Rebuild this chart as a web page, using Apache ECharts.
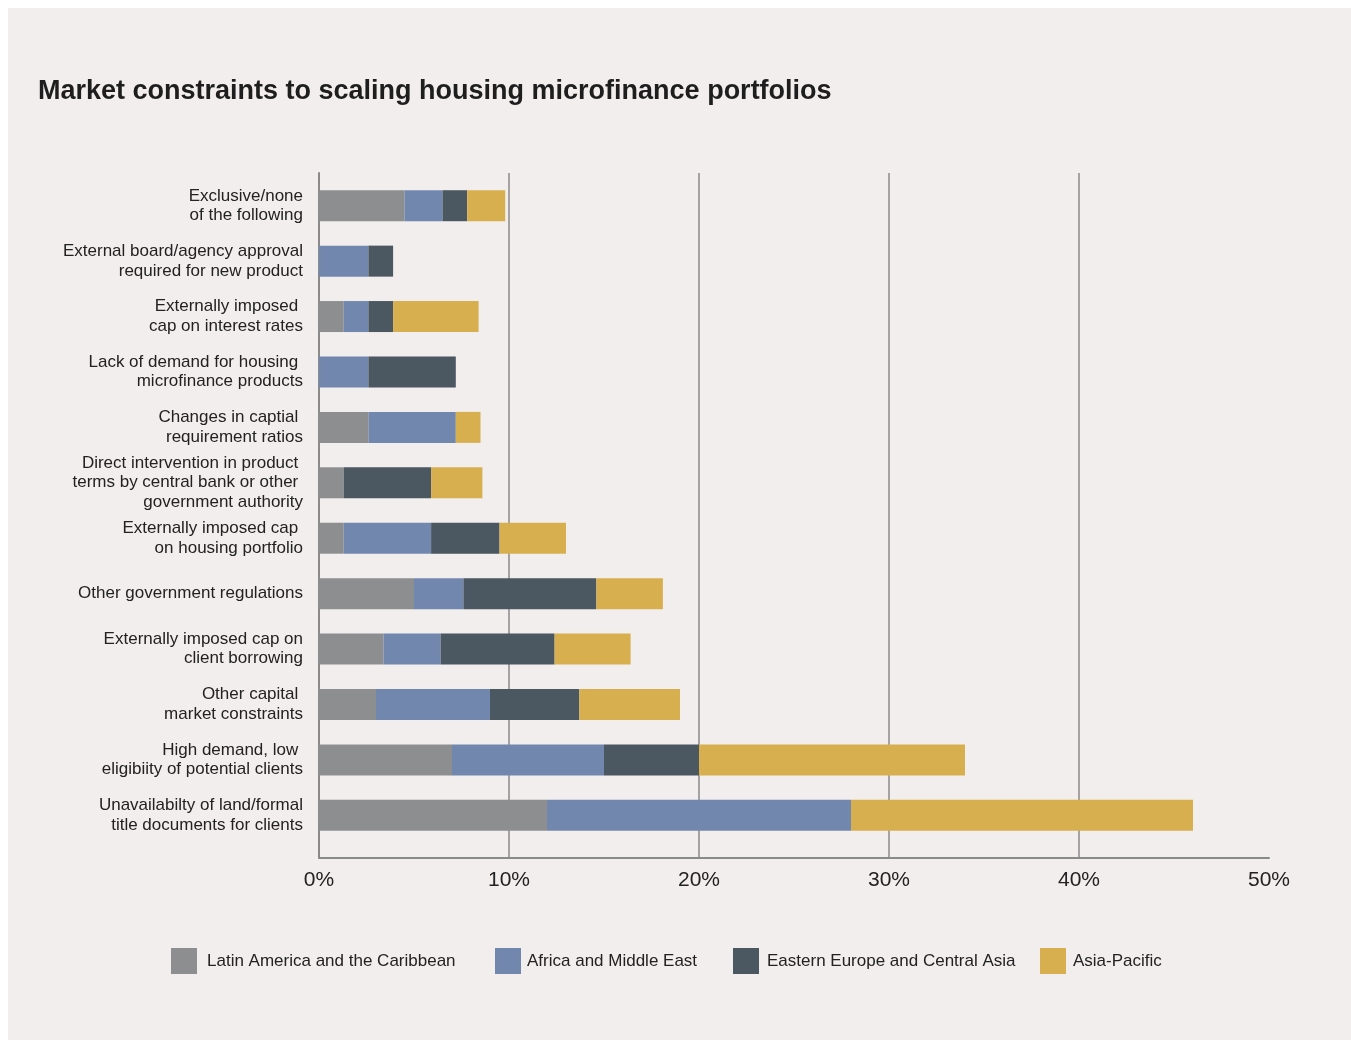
<!DOCTYPE html>
<html>
<head>
<meta charset="utf-8">
<script src="https://cdn.jsdelivr.net/npm/echarts@6/dist/echarts.min.js"></script>
<style>
  html, body { margin: 0; padding: 0; background: #ffffff; }
  #chart { position: absolute; left: 8px; top: 8px; width: 1343px; height: 1032px; background: #f2eeed; }
</style>
</head>
<body>
<div id="chart"></div>
<script>
// categories, top to bottom
var categories = [
    'Exclusive/none\nof the following',
    'External board/agency approval\nrequired for new product',
    'Externally imposed \ncap on interest rates',
    'Lack of demand for housing \nmicrofinance products',
    'Changes in captial \nrequirement ratios',
    'Direct intervention in product \nterms by central bank or other \ngovernment authority',
    'Externally imposed cap \non housing portfolio',
    'Other government regulations',
    'Externally imposed cap on\nclient borrowing',
    'Other capital \nmarket constraints',
    'High demand, low \neligibiity of potential clients',
    'Unavailabilty of land/formal\ntitle documents for clients'
];

// shares in %, same order as categories
var latinAmerica = [4.5, 0, 1.3, 0, 2.6, 1.3, 1.3, 5.0, 3.4, 3.0, 7.0, 12.0];
var africaMiddleEast = [2.0, 2.6, 1.3, 2.6, 4.6, 0, 4.6, 2.6, 3.0, 6.0, 8.0, 16.0];
var easternEurope = [1.3, 1.3, 1.3, 4.6, 0, 4.6, 3.6, 7.0, 6.0, 4.7, 5.0, 0];
var asiaPacific = [2.0, 0, 4.5, 0, 1.3, 2.7, 3.5, 3.5, 4.0, 5.3, 14.0, 18.0];

var xTicks = [0, 10, 20, 30, 40, 50];

var seriesNames = ['Latin America and the Caribbean', 'Africa and Middle East',
    'Eastern Europe and Central Asia', 'Asia-Pacific'];
var seriesColors = ['#8d8e90', '#7287ad', '#4b5761', '#d7af4f'];
var seriesData = [latinAmerica, africaMiddleEast, easternEurope, asiaPacific];

var font = '"Liberation Sans", Arial, sans-serif';

// one legend per entry so the spacing follows the original
var legendLeft = [163, 487, 725, 1032];
var legendTextGap = [5, 1, 3, 2];

var chart = echarts.init(document.getElementById('chart'));

var series = seriesNames.map(function (name, i) {
    return {
        name: name,
        type: 'bar',
        stack: 'total',
        xAxisIndex: 0,
        yAxisIndex: 0,
        barWidth: 31,
        itemStyle: { color: seriesColors[i] },
        data: seriesData[i]
    };
});

var legends = seriesNames.map(function (name, i) {
    return {
        data: [name],
        left: legendLeft[i],
        top: 940,
        padding: 0,
        itemWidth: 26,
        itemHeight: 26,
        icon: 'rect',
        selectedMode: false,
        textStyle: {
            fontFamily: font,
            fontSize: 17,
            color: '#222',
            padding: [0, 0, 0, legendTextGap[i]]
        }
    };
});

chart.setOption({
    animation: false,
    color: seriesColors,
    title: {
        text: 'Market constraints to scaling housing microfinance portfolios',
        left: 30,
        top: 70,
        padding: 0,
        textStyle: { fontFamily: font, fontSize: 27, fontWeight: 'bold', color: '#1e1e1e' }
    },
    legend: legends,
    grid: [
        // bars
        { left: 311, right: 82, top: 170, height: 665 },
        // axes and gridlines
        { left: 311, right: 82, top: 165, height: 685 }
    ],
    xAxis: [
        { gridIndex: 0, type: 'value', min: 0, max: 50, show: false },
        {
            gridIndex: 1,
            type: 'value',
            min: xTicks[0],
            max: xTicks[xTicks.length - 1],
            interval: 10,
            axisLine: { show: true, lineStyle: { color: '#8a8a8a', width: 2 } },
            axisTick: { show: false },
            splitLine: {
                show: true,
                showMinLine: false,
                showMaxLine: false,
                lineStyle: { color: '#8a8a8a', width: 1.5 }
            },
            axisLabel: {
                margin: 12,
                formatter: '{value}%',
                fontFamily: font,
                fontSize: 21,
                color: '#222'
            }
        }
    ],
    yAxis: [
        {
            gridIndex: 0,
            type: 'category',
            inverse: true,
            data: categories,
            axisLine: { show: false },
            axisTick: { show: false },
            axisLabel: {
                margin: 16,
                fontFamily: font,
                fontSize: 17,
                lineHeight: 19.5,
                color: '#222'
            }
        },
        {
            gridIndex: 1,
            type: 'value',
            min: 0,
            max: 1,
            axisLine: { show: true, lineStyle: { color: '#8a8a8a', width: 2 } },
            axisTick: { show: false },
            axisLabel: { show: false },
            splitLine: { show: false }
        }
    ],
    series: series
});
</script>
</body>
</html>
